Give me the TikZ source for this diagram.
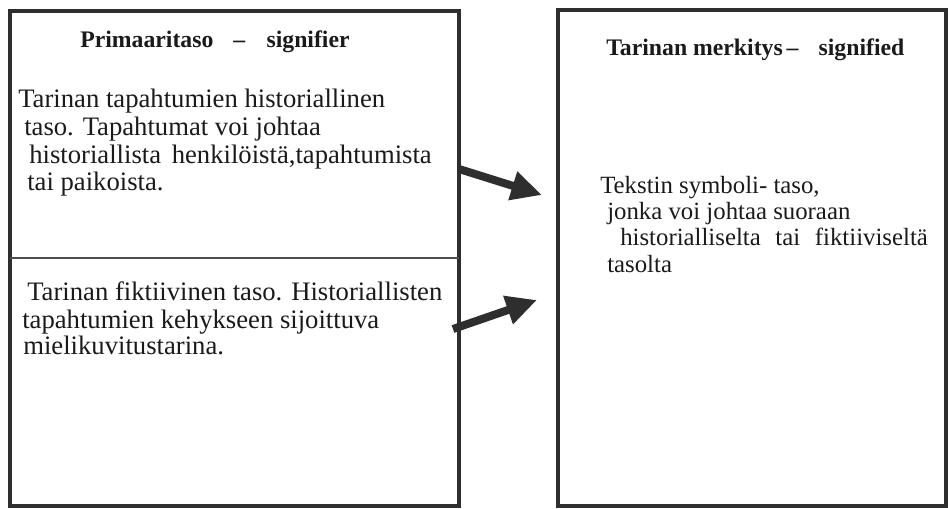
\documentclass[tikz,border=0pt]{standalone}
\usepackage{fontspec}
\setmainfont{Liberation Serif}
\usetikzlibrary{arrows.meta}
\definecolor{ink}{HTML}{2E2E2E}
\definecolor{txt}{HTML}{1A1A1A}
\begin{document}
\begin{tikzpicture}[x=0.75pt,y=-0.75pt,
  frame/.style={draw=ink,line width=2.4pt},
  divider/.style={draw=ink!85,line width=1.4pt},
  head/.style={anchor=base west,inner sep=0pt,text=txt,font=\fontsize{17.8}{20}\selectfont\bfseries},
  body/.style={anchor=base west,inner sep=0pt,text=txt,font=\fontsize{20}{23}\selectfont},
  rbody/.style={anchor=base west,inner sep=0pt,text=txt,font=\fontsize{18.6}{21}\selectfont},
  bigarrow/.style={draw=ink,line width=6pt,-{Triangle[length=23pt,width=21pt]}}]
\useasboundingbox (0,0) rectangle (948,508);

% left box with its two levels
\draw[frame] (10,11) rectangle (459,506);
\draw[divider] (10,258) -- (459,258);

% right box
\draw[frame] (558,10) rectangle (946,506);

% left box, upper level
\node[head] (h1) at (80,47) {Primaaritaso\hspace{15pt}–\hspace{16pt}signifier};
\node[body] (a1) at (18,107) {Tarinan tapahtumien historiallinen};
\node[body] (a2) at (24,135) {taso. Tapahtumat voi johtaa};
\node[body] (a3) at (29,163) {historiallista\hspace{8pt}henkilöistä,tapahtumista};
\node[body] (a4) at (27,190) {tai paikoista.};

% left box, lower level
\node[body] (b1) at (27,300) {Tarinan fiktiivinen taso. Historiallisten};
\node[body] (b2) at (22,328) {tapahtumien kehykseen sijoittuva};
\node[body] (b3) at (23,354) {mielikuvitustarina.};

% right box
\node[head] (h2) at (606,55) {Tarinan merkitys\hspace{3pt}–\hspace{15pt}signified};
\node[rbody] (c1) at (600,193) {Tekstin symboli- taso,};
\node[rbody] (c2) at (607,219) {jonka voi johtaa suoraan};
\node[rbody] (c3) at (620,245) {historialliselta\hspace{11pt}tai\hspace{11pt}fiktiiviseltä};
\node[rbody] (c4) at (607,272) {tasolta};

% arrows from both levels towards the meaning
\coordinate (s1) at (459,169);
\coordinate (t1) at (542,195);
\coordinate (s2) at (453,329);
\coordinate (t2) at (537,300);
\draw[bigarrow] (s1) -- (t1);
\draw[bigarrow] (s2) -- (t2);
\end{tikzpicture}
\end{document}
